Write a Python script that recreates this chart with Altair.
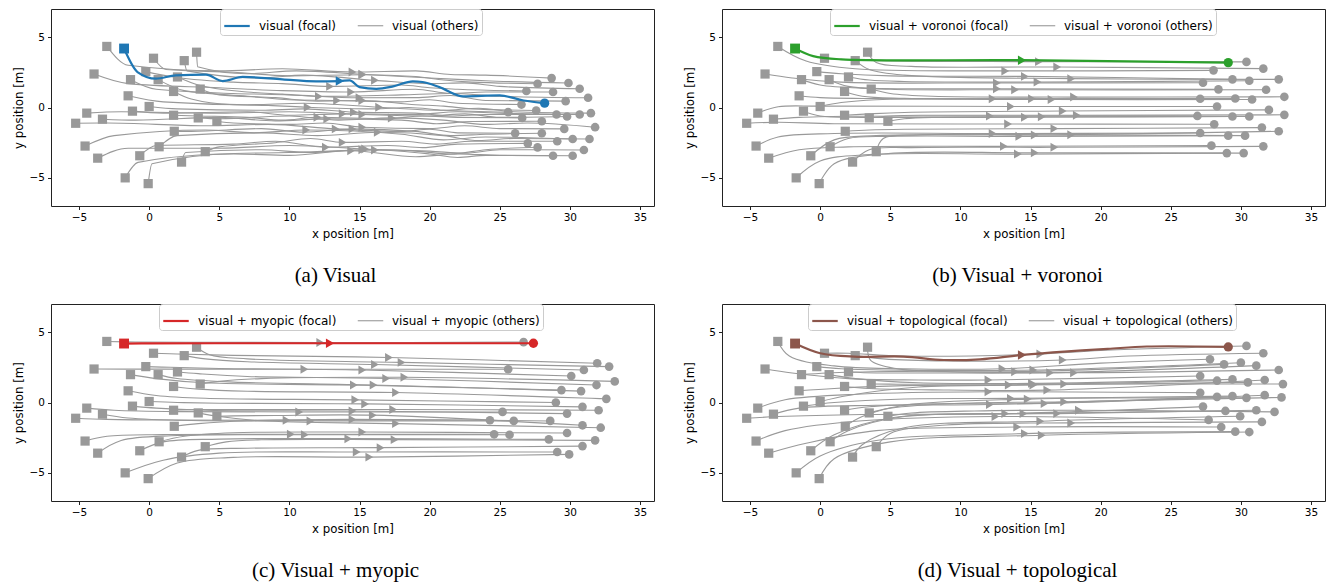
import altair as alt
import pandas as pd

# ---------------- data ----------------
# start positions of the 30 agents (identical in every panel); agent 1 is the focal agent
START = [(-3.02, 4.34), (-1.79, 4.19), (0.31, 3.50), (3.38, 3.93), (2.50, 3.33),
         (-3.93, 2.38), (-0.24, 2.55), (-1.33, 1.98), (0.64, 1.98), (2.02, 2.17),
         (1.74, 1.14), (3.64, 1.31), (-1.50, 0.83), (-1.19, -0.26), (0.00, 0.07),
         (-4.45, -0.40), (-3.33, -0.83), (-5.24, -1.12), (1.74, -0.55), (3.50, -0.74),
         (4.83, -0.98), (1.79, -1.69), (-4.57, -2.74), (-3.67, -3.60), (-0.67, -3.43),
         (0.71, -2.79), (4.00, -3.14), (2.31, -3.88), (-1.71, -5.00), (-0.07, -5.41)]
FOCAL = 1

# ---- (a) visual ----
VIS_WAY = [
    [(-1.5, 3.0), (5, 2.6), (9.5, 2.75), (19, 2.6), (21.5, 2.35), (24, 2.3)],
    [(-0.83, 2.52), (0.48, 2.05), (1.9, 2.29), (4.05, 2.33), (5.24, 1.88), (6.67, 2.17), (9.5, 2.0),
     (11.9, 1.86), (14.3, 1.93), (15.0, 1.45), (16.2, 1.33), (17.4, 1.5), (18.8, 1.86), (19.5, 1.81),
     (20.7, 1.45), (22.4, 0.79), (25.0, 0.86), (26.7, 0.5)],
    [(1.2, 2.7), (6, 2.5), (10, 2.25), (19, 2.2), (21, 1.95), (23, 1.8)],
    [(3.45, 2.9), (7, 2.4), (10.5, 2.6), (20, 2.1), (22, 2.0), (24, 1.9)],
    [(2.7, 2.6), (8, 2.1), (11, 2.3), (20, 1.7), (22.5, 1.75), (25, 1.5)],
    [(-1.5, 1.7), (5, 1.4), (9.5, 1.2), (19, 1.3), (21.5, 1.0), (24, 1.1)],
    [(1.5, 2.2), (6, 1.8), (9.5, 1.7), (18, 1.6), (20, 1.4), (22, 1.3)],
    [(0.5, 1.3), (6, 1.0), (10, 0.9), (19, 0.7), (21.5, 0.85), (24, 0.5)],
    [(2.5, 1.2), (7, 0.8), (10, 0.55), (18, 0.4), (20, 0.55), (22, 0.3)],
    [(3.5, 1.6), (7, 1.1), (9.5, 0.95), (18, 0.9), (21.5, 1.0), (25, 0.8)],
    [(3, 0.6), (6, 0.2), (8.5, 0.15), (16, -0.1), (18.5, 0.0), (21, -0.2)],
    [(5, 0.9), (9, 0.7), (12, 0.45), (19, 0.2), (21, 0.1), (23, -0.1)],
    [(1, 0.4), (7, 0.2), (11, 0.3), (21, -0.2), (23.5, -0.05), (26, -0.3)],
    [(1, -0.4), (7, -0.3), (10, -0.55), (19, -0.5), (22, -0.3), (25, -0.4)],
    [(2, -0.1), (8, -0.2), (11, -0.1), (19, -0.4), (21.5, -0.6), (24, -0.5)],
    [(-2, -0.3), (5, -0.4), (10, -0.3), (20, -0.6), (22.5, -0.45), (25, -0.7)],
    [(-1, -0.9), (5, -0.7), (9, -0.95), (18, -0.9), (20.5, -1.15), (23, -1.0)],
    [(-3, -1.1), (4, -1.3), (8.5, -1.2), (18, -1.7), (20, -1.55), (22, -1.8)],
    [(3.5, -0.6), (7, -0.7), (9.5, -0.9), (17, -0.8), (19.5, -0.6), (22, -0.7)],
    [(5, -0.8), (10, -0.6), (13.5, -0.9), (21, -0.9), (24, -1.2), (27, -1.1)],
    [(6, -1.1), (10, -1.2), (12.5, -1.1), (20, -1.5), (22.5, -1.3), (25, -1.5)],
    [(3, -1.7), (8, -1.5), (11, -1.75), (19, -1.7), (21.5, -2.0), (24, -1.9)],
    [(-2.5, -2.0), (4, -1.6), (7.5, -1.8), (18, -1.9), (21, -2.3), (24, -2.1)],
    [(-1.5, -2.9), (5, -2.9), (10, -2.7), (19, -3.1), (21.5, -3.3), (24, -3.0)],
    [(0.5, -2.7), (6, -2.6), (9, -2.4), (17, -2.7), (19.5, -2.85), (22, -2.6)],
    [(2, -2.0), (8, -1.8), (12, -2.0), (21, -2.0), (23.5, -2.35), (26, -2.2)],
    [(5, -2.8), (9, -2.5), (11.5, -2.2), (18, -2.4), (20.5, -2.6), (23, -2.4)],
    [(2.6, -3.2), (8, -3.0), (11.5, -3.2), (20, -3.1), (22.5, -3.25), (25, -3.0)],
    [(-0.8, -3.9), (5, -3.3), (10, -3.2), (20, -3.3), (22, -3.55), (24, -3.4)],
    [(0.2, -4.0), (6, -3.3), (10, -3.4), (19, -3.5), (22, -3.3), (25, -3.4)],
]
VIS_ARROW = [(14.5, 2.52), (13.6, 1.88), (15.2, 2.33), (15.2, 2.36), (16.1, 1.93), (14.4, 1.1),
             (12.9, 1.5), (15.0, 0.69), (13.4, 0.5), (12.1, 0.79), (11.3, 0.02), (15.2, 0.5),
             (16.4, 0.02), (13.8, -0.45), (14.6, -0.33), (15.2, -0.5), (12.7, -0.81), (13.3, -1.52),
             (12.0, -0.69), (17.3, -0.74), (15.2, -1.4), (14.5, -1.52), (11.2, -1.6), (15.4, -2.95),
             (12.6, -2.83), (16.3, -1.76), (13.8, -2.48), (15.2, -3.0), (16.1, -3.02), (14.4, -3.07)]
VIS_END = [(28.7, 2.09), (28.2, 0.31), (27.7, 1.69), (29.9, 1.74), (30.7, 1.33), (28.8, 1.1),
           (26.9, 1.17), (29.7, 0.45), (26.55, 0.21), (31.3, 0.69), (25.6, -0.33), (27.6, -0.21),
           (31.5, -0.4), (30.7, -0.5), (29.05, -0.5), (29.8, -0.64), (28.0, -0.98), (26.1, -1.83),
           (26.6, -0.74), (31.8, -1.4), (29.6, -1.52), (28.0, -1.83), (30.2, -2.24), (27.7, -2.83),
           (27.0, -2.55), (31.4, -2.24), (29.1, -2.4), (31.0, -3.02), (28.8, -3.43), (30.2, -3.43)]

# ---- (b) visual + voronoi ----
VOR_WAY = [
    [(-1.0, 3.3), (2.5, 2.75)], [(-0.5, 3.65), (1.5, 3.42)], [(2, 3.4), (5, 3.3)],
    [(4.0, 3.2), (6.5, 2.92)], [(3.5, 2.7), (6, 2.3)], [(-2, 2.1), (1.5, 1.8)],
    [(1.5, 2.4), (5, 2.25)], [(0, 1.6), (3, 1.38)], [(2, 1.5), (5, 1.3)],
    [(3.5, 1.95), (6, 1.85)], [(3, 0.8), (6, 0.65)], [(5, 1.0), (8, 0.8)],
    [(0, 0.7), (3, 0.64)], [(0, -0.6), (3, -0.7)], [(1.5, 0.35), (4, 0.55)],
    [(-3, 0.05), (0, 0.1)], [(-1.5, -0.7), (2, -0.62)], [(-3, -1.05), (1, -1.15)],
    [(3.5, -0.45), (6, -0.35)], [(5, -0.6), (8, -0.55)], [(6, -0.8), (8, -0.7)],
    [(3.5, -1.6), (6, -1.55)], [(-3, -2.1), (1, -1.85)], [(-1.5, -3.0), (2, -2.8)],
    [(1, -2.3), (4, -2.0)], [(2, -2.2), (5, -2.05)], [(4.5, -2.2), (7, -1.95)],
    [(3.5, -3.0), (6.5, -2.85)], [(0, -3.8), (3.5, -3.35)], [(1, -4.0), (4.5, -3.3)],
]
VOR_ARROW = [(13.2, 2.6), (14.4, 3.36), (15.6, 3.26), (16.9, 2.88), (17.9, 2.05), (12.6, 1.75),
             (14.6, 2.21), (12.6, 1.33), (13.9, 1.26), (15.5, 1.81), (16.5, 0.57), (18.1, 0.74),
             (12.3, 0.62), (14.6, -0.69), (15.1, 0.62), (13.6, 0.07), (12.1, -0.6), (13.4, -1.17),
             (17.3, -0.25), (18.3, -0.55), (15.8, -0.66), (16.7, -1.5), (12.3, -1.85), (13.1, -2.76),
             (15.3, -1.95), (14.2, -2.05), (17.9, -1.93), (16.7, -2.83), (14.1, -3.31), (15.3, -3.22)]
VOR_END = [(28.05, 2.64), (29.1, 3.19), (30.4, 3.24), (31.6, 2.76), (32.7, 2.0), (27.3, 1.76),
           (29.4, 2.0), (28.4, 1.29), (31.8, 1.26), (30.6, 1.9), (30.8, 0.57), (33.1, 0.76),
           (27.1, 0.62), (29.4, -0.64), (29.6, 0.64), (28.3, 0.07), (26.9, -0.6), (28.1, -1.19),
           (32.0, -0.17), (33.1, -0.52), (30.6, -0.64), (31.5, -1.43), (27.1, -1.81), (27.9, -2.71),
           (30.3, -2.0), (29.1, -2.0), (32.7, -1.69), (31.6, -2.76), (29.0, -3.24), (30.2, -3.24)]

# ---- (c) visual + myopic ----
MYO_WAY = [
    [(-1.0, 4.3), (3, 4.28)], [(0, 4.2), (5, 4.21)], [(2, 3.45), (6, 3.35)],
    [(4.3, 3.4), (7, 3.1)], [(4, 3.1), (7, 2.9)], [(0, 2.37), (5, 2.37)],
    [(1.5, 2.5), (5, 2.42)], [(0.5, 1.7), (4, 1.4)], [(2, 1.7), (6, 1.45)],
    [(3.5, 2.05), (7, 1.85)], [(3.5, 0.95), (7, 0.8)], [(5, 1.5), (8, 1.7)],
    [(0.5, 0.5), (4, 0.3)], [(0.5, -0.4), (4, -0.55)], [(2, 0.0), (5, -0.05)],
    [(-2.5, -0.55), (2, -0.65)], [(-1.5, -1.1), (3, -1.28)], [(-3, -1.2), (2, -1.25)],
    [(3.5, -0.5), (7, -0.5)], [(5, -1.0), (8, -1.3)], [(6, -0.95), (9, -0.92)],
    [(3.5, -1.5), (7, -1.3)], [(-3, -2.4), (1, -2.28)], [(-2, -2.7), (2, -2.35)],
    [(1, -2.8), (5, -2.6)], [(2.5, -2.4), (6, -2.15)], [(5.5, -2.8), (8, -2.65)],
    [(3.5, -3.4), (7, -3.25)], [(1, -4.1), (5, -3.6)], [(2, -4.3), (6, -3.9)],
]
MYO_ARROW = [(12.2, 4.26), (12.9, 4.21), (17.1, 3.2), (18.0, 2.85), (16.1, 2.7), (11.07, 2.36),
             (15.2, 2.31), (14.6, 1.24), (16.0, 1.24), (16.9, 1.71), (17.6, 0.71), (18.2, 1.79),
             (14.7, 0.19), (14.5, -0.6), (15.4, -0.1), (10.7, -0.67), (11.5, -1.31), (9.8, -1.26),
             (17.4, -0.5), (17.6, -1.5), (15.95, -0.9), (14.5, -1.2), (10.1, -2.26), (11.1, -2.29),
             (14.2, -2.57), (15.2, -2.1), (17.5, -2.64), (16.5, -3.21), (14.8, -3.52), (15.7, -3.88)]
MYO_END = [(26.7, 4.29), (27.4, 4.21), (31.95, 2.79), (32.8, 2.55), (31.0, 2.31), (25.6, 2.36),
           (30.1, 1.88), (29.4, 0.88), (30.8, 0.81), (31.9, 1.24), (32.6, 0.26), (33.2, 1.5),
           (29.0, 0.0), (29.8, -0.79), (30.9, -0.31), (25.2, -0.67), (26.0, -1.31), (24.3, -1.26),
           (32.05, -0.55), (32.2, -1.79), (30.9, -1.62), (28.6, -1.31), (24.6, -2.26), (25.7, -2.29),
           (28.5, -2.62), (29.8, -2.17), (31.8, -2.69), (30.9, -3.1), (29.1, -3.52), (29.95, -3.69)]

# ---- (d) visual + topological ----
TOP_WAY = [
    [(-2.2, 3.3), (1, 2.6), (6, 2.4), (20, 2.8)],
    [(0, 3.5), (2.4, 3.26), (5.95, 3.26), (8.8, 3.02), (11.4, 3.07), (17.4, 3.62), (20.5, 3.81), (23.3, 3.98)],
    [(2, 3.5), (6, 3.3), (20, 3.7)],
    [(3.6, 3.0), (5.5, 2.4), (9, 2.2)],
    [(4.5, 3.1), (9, 2.95), (22, 3.3)],
    [(-2, 2.1), (2, 1.7), (7, 1.6)],
    [(1.5, 2.4), (6, 2.3)], [(0.5, 2.1), (5, 2.2)], [(2.5, 1.7), (7, 1.4)],
    [(4, 2.1), (8, 2.1)], [(3.5, 1.0), (8, 0.9)], [(5.5, 1.3), (10, 1.3)],
    [(1, 1.0), (6, 1.2)], [(1, 0.0), (6, 0.25)], [(2, 0.5), (7, 1.1)],
    [(-2.5, 0.2), (3, 0.6)], [(-1.5, -0.4), (4, -0.2)], [(-3, -1.0), (3, -0.85)],
    [(3.5, -0.3), (8, -0.1)], [(5, -0.4), (10, -0.05)], [(6.5, -0.75), (11, -0.6)],
    [(3, -1.0), (6, -0.2)], [(-2.5, -2.0), (3, -1.3)], [(-1, -2.9), (4, -2.0)],
    [(1, -2.3), (5, -1.1)], [(2, -2.0), (6, -1.0)], [(5, -2.2), (9, -1.6)],
    [(3, -3.0), (6, -1.8)], [(0, -3.8), (4, -2.7)], [(1, -4.0), (5, -2.8)],
]
TOP_ARROW = [(13.0, 2.4), (14.4, 3.38), (15.7, 3.45), (18.1, 2.12), (17.3, 3.02), (12.0, 1.6),
             (15.2, 2.31), (13.9, 2.19), (15.1, 1.36), (16.4, 2.12), (16.2, 0.88), (17.4, 1.31),
             (13.45, 1.24), (13.6, 0.29), (15.2, 1.24), (12.0, 0.76), (12.1, -0.14), (13.2, -0.79),
             (16.0, -0.07), (17.4, 0.05), (18.45, -0.55), (14.8, 0.24), (12.5, -1.0), (14.05, -1.74),
             (14.5, -0.79), (16.9, -0.79), (17.9, -1.45), (15.7, -1.33), (14.6, -2.21), (15.8, -2.33)]
TOP_END = [(27.8, 3.07), (29.1, 3.95), (30.4, 4.02), (32.7, 2.31), (31.6, 3.5), (27.1, 1.88),
           (30.0, 2.83), (28.8, 2.71), (29.4, 1.64), (31.1, 2.62), (31.7, 1.6), (33.0, 1.31),
           (28.3, 1.55), (29.4, 0.45), (30.5, 1.43), (27.1, 0.69), (28.3, 0.4), (27.3, -0.29),
           (31.7, 0.52), (32.9, 0.36), (32.4, -0.67), (30.4, 0.33), (27.7, -1.24), (28.6, -1.74),
           (28.9, -0.6), (31.1, -0.55), (31.5, -1.38), (29.95, -0.98), (29.6, -2.07), (30.6, -2.1)]

X_TICKS = [-5, 0, 5, 10, 15, 20, 25, 30, 35]
Y_TICKS = [-5, 0, 5]

GRAY = "#999999"


def tables(way, arrow, end):
    rows, marks = [], []
    for i in range(len(START)):
        pts = [START[i]]
        placed = False
        for p in way[i]:
            if not placed and p[0] > arrow[i][0]:
                pts.append(arrow[i])
                placed = True
            pts.append(p)
        if not placed:
            pts.append(arrow[i])
        pts.append(end[i])
        role = "focal" if i == FOCAL else "others"
        for k, (x, y) in enumerate(pts):
            rows.append({"agent": i, "k": k, "x": x, "y": y, "role": role})
        marks.append({"agent": i, "role": role, "kind": "start", "x": START[i][0], "y": START[i][1]})
        marks.append({"agent": i, "role": role, "kind": "arrow", "x": arrow[i][0], "y": arrow[i][1]})
        marks.append({"agent": i, "role": role, "kind": "end", "x": end[i][0], "y": end[i][1]})
    return pd.DataFrame(rows), pd.DataFrame(marks)


def panel(name, color, way, arrow, end, caption, lx, interp, cdx):
    lines, marks = tables(way, arrow, end)
    lab_f, lab_o = f"{name} (focal)", f"{name} (others)"
    lines["label"] = lines["role"].map({"focal": lab_f, "others": lab_o})
    xenc = alt.X("x:Q", scale=alt.Scale(domain=[-7, 36], nice=False, zero=False),
                 axis=alt.Axis(values=X_TICKS, title="x position [m]"))
    yenc = alt.Y("y:Q", scale=alt.Scale(domain=[-7, 7], nice=False, zero=False),
                 axis=alt.Axis(values=Y_TICKS, title="y position [m]"))
    leg = alt.Legend(title=None, orient="none", legendX=lx, legendY=0,
                     direction="horizontal", fillColor="white",
                     strokeColor="#cccccc", cornerRadius=3, padding=3,
                     labelFont="DejaVu Sans", labelFontSize=12,
                     labelColor="black", labelLimit=400,
                     symbolType="stroke", symbolSize=650, columnPadding=18, labelOffset=8)
    cenc = alt.Color("label:N", scale=alt.Scale(domain=[lab_f, lab_o], range=[color, GRAY]), legend=leg)
    wenc = alt.StrokeWidth("label:N", scale=alt.Scale(domain=[lab_f, lab_o], range=[2.2, 1.1]), legend=leg)
    l_o = alt.Chart(lines[lines.role == "others"]).mark_line(interpolate=interp).encode(
        x=xenc, y=yenc, detail="agent:N", order="k:Q", color=cenc, strokeWidth=wenc)
    l_f = alt.Chart(lines[lines.role == "focal"]).mark_line(interpolate=interp).encode(
        x=xenc, y=yenc, detail="agent:N", order="k:Q", color=cenc, strokeWidth=wenc)
    m_o = marks[marks.role == "others"]
    m_f = marks[marks.role == "focal"]

    def mk(df, col, scale=1.0):
        out = []
        for kind, shape, size in (("start", "square", 85), ("arrow", "triangle-right", 80), ("end", "circle", 75)):
            out.append(alt.Chart(df[df.kind == kind]).mark_point(
                shape=shape, filled=True, opacity=1, size=size * scale, color=col, strokeWidth=0
            ).encode(x="x:Q", y="y:Q"))
        return out

    layers = [l_o] + mk(m_o, GRAY) + [l_f] + mk(m_f, color, 1.15)
    return alt.layer(*layers).properties(
        width=603, height=197,
        title=alt.TitleParams(caption, orient="bottom", font="Liberation Serif", fontSize=21,
                              fontWeight="normal", color="black", offset=25, anchor="middle", dx=cdx))


pa = panel("visual", "#1f77b4", VIS_WAY, VIS_ARROW, VIS_END, "(a) Visual", 169, "monotone", -17)
pb = panel("visual + voronoi", "#2ca02c", VOR_WAY, VOR_ARROW, VOR_END, "(b) Visual + voronoi", 108, "catmull-rom", -6)
pc = panel("visual + myopic", "#d62728", MYO_WAY, MYO_ARROW, MYO_END, "(c) Visual + myopic", 108, "catmull-rom", -17)
pd_ = panel("visual + topological", "#8c564b", TOP_WAY, TOP_ARROW, TOP_END, "(d) Visual + topological", 86, "catmull-rom", -6)

top = alt.hconcat(pa, pb, spacing=28).resolve_scale(color="independent", strokeWidth="independent")
bottom = alt.hconcat(pc, pd_, spacing=28).resolve_scale(color="independent", strokeWidth="independent")
chart = alt.vconcat(top, bottom, spacing=16).resolve_scale(
    color="independent", strokeWidth="independent"
).properties(
    padding={"left": 4, "top": 0, "right": 0, "bottom": 0}
).configure_axis(
    labelFont="DejaVu Sans", labelFontSize=10.5, labelColor="black",
    titleFont="DejaVu Sans", titleFontSize=11.8, titleFontWeight="normal", titleColor="black",
    tickColor="#222", tickSize=3.5, domain=False, grid=False, labelPadding=3, titlePadding=5
).configure_view(stroke="#222", strokeWidth=1)

chart.save("out.html", embed_options={"renderer": "svg", "actions": False})
